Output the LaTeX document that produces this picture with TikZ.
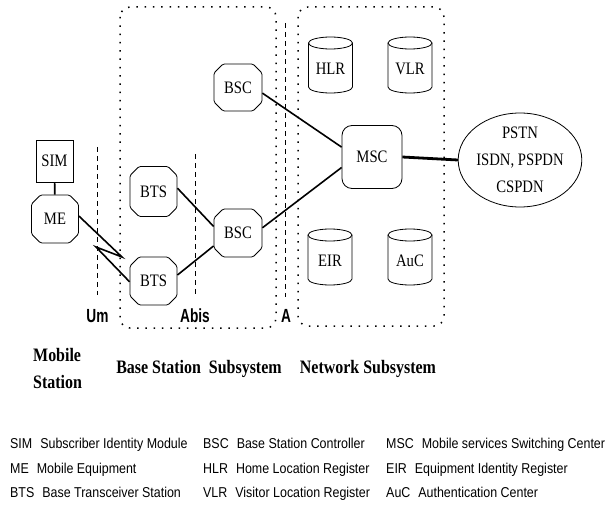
\documentclass[tikz,border=0pt]{standalone}
\usepackage{fontspec}
\usetikzlibrary{shapes.geometric,shapes.misc}
\newfontfamily\dfont[FakeStretch=0.84]{Liberation Serif}
\newfontfamily\sublabfont[FakeStretch=0.84]{Liberation Serif}
\newfontfamily\iflabfont[FakeStretch=0.72]{Liberation Sans}
\newfontfamily\legfont[FakeStretch=0.87]{Liberation Sans}
\newcommand{\mycyl}[4]{%
  \draw[cylline] ({#2},{#3+6}) ellipse[x radius=22pt,y radius=6pt];
  \draw[cylline] ({#2-22},{#3+6}) -- ({#2-22},{#3+50})
     arc[start angle=180,end angle=360,x radius=22pt,y radius=6pt] -- ({#2+22},{#3+6});
  \node[dtext] (#1) at ({#2},{#3+31.5}) {#4};}
\begin{document}
\begin{tikzpicture}[x=1pt,y=-1pt,
  dtext/.style={font=\dfont\fontsize{17.5}{27}\selectfont, inner sep=0pt},
  octbox/.style={chamfered rectangle, chamfered rectangle xsep=4.5pt, chamfered rectangle ysep=4.5pt,
     rounded corners=1.5pt,
     draw, line width=0.8pt, inner sep=0pt, minimum width=47pt, minimum height=48pt,
     font=\dfont\fontsize{17.5}{27}\selectfont},
  simbox/.style={rectangle, draw, line width=0.8pt, inner sep=0pt, minimum width=37pt, minimum height=42pt,
     font=\dfont\fontsize{17.5}{27}\selectfont},
  mscbox/.style={rectangle, rounded corners=10pt, draw, line width=0.8pt, inner sep=0pt,
     minimum width=60pt, minimum height=63pt, font=\dfont\fontsize{17.5}{27}\selectfont},
  netell/.style={ellipse, draw, line width=0.8pt, inner sep=0pt, minimum width=116pt, minimum height=94pt,
     align=center, font=\dfont\fontsize{17.5}{27}\selectfont},
  cylline/.style={draw, line width=0.8pt},
  link/.style={line width=1.6pt},
  trunk/.style={line width=2.8pt},
  dotbox/.style={line width=1.5pt, dash pattern=on 1.5pt off 6.8pt, rounded corners=10pt},
  ifline/.style={line width=0.8pt, dash pattern=on 5pt off 4pt},
  iflab/.style={font=\iflabfont\bfseries\fontsize{19}{20}\selectfont, inner sep=0pt, anchor=base},
  sublab/.style={font=\sublabfont\bfseries\fontsize{19}{27}\selectfont, inner sep=0pt},
  leg/.style={font=\legfont\fontsize{14.3}{16}\selectfont, inner sep=0pt, anchor=base west}
]
\useasboundingbox (0,0) rectangle (606,508);

% subsystem boxes
\draw[dotbox] (120,7) rectangle (276,328);
\draw[dotbox] (298,7) rectangle (444,326);

% interface lines
\draw[ifline] (97,147) -- (97,295);
\draw[ifline] (195,154) -- (195,296);
\draw[ifline] (285,23) -- (285,297);

% nodes
\node[simbox] (sim) at (54.5,161) {SIM};
\node[octbox] (me) at (55,219) {ME};
\node[octbox, minimum height=50pt] (bts1) at (153.5,191.5) {BTS};
\node[octbox] (bts2) at (153.5,281) {BTS};
\node[octbox, minimum width=48pt, minimum height=47pt] (bsc1) at (238,87.5) {BSC};
\node[octbox, minimum width=48pt] (bsc2) at (238,233) {BSC};
\node[mscbox] (msc) at (372,157) {MSC};
\node[netell] (pstn) at (520,160) {PSTN\\ISDN, PSPDN\\CSPDN};

\mycyl{hlr}{330.5}{37}{HLR}
\mycyl{vlr}{410}{37}{VLR}
\mycyl{eir}{330}{229}{EIR}
\mycyl{auc}{410}{229}{AuC}

% connectors
\draw[link] (sim) -- (me);
\coordinate (zz1) at (122,257);
\coordinate (zz2) at (96,247);
\draw[link, line join=miter] (me.7) -- (zz1) -- (zz2) -- (bts2.182);
\draw[link] (bts1.8) -- (bsc2.165);
\draw[link] (bts2.14) -- (bsc2.208);
\draw[link] (bsc1.-13) -- (msc.162);
\draw[link] (bsc2.12) -- (msc.199);
\draw[trunk] (msc.east) -- (pstn.west);

% interface labels
\node[iflab] (um) at (97.5,322.5) {Um};
\node[iflab] (abis) at (195,322.5) {Abis};
\node[iflab] (alab) at (286,322.5) {A};

% subsystem labels
\node[sublab, align=left, anchor=west] (ms) at (33,368.5) {Mobile\\Station};
\node[sublab] (bss) at (199,369) {Base Station\ \ Subsystem};
\node[sublab] (nss) at (368,369) {Network Subsystem};

% legend
\node[leg] (l11) at (10,448) {SIM\hspace{8pt}Subscriber Identity Module};
\node[leg] (l12) at (10,473) {ME\hspace{8pt}Mobile Equipment};
\node[leg] (l13) at (10,497) {BTS\hspace{8pt}Base Transceiver Station};
\node[leg] (l21) at (203,448) {BSC\hspace{8pt}Base Station Controller};
\node[leg] (l22) at (203,473) {HLR\hspace{8pt}Home Location Register};
\node[leg] (l23) at (203,497) {VLR\hspace{8pt}Visitor Location Register};
\node[leg] (l31) at (386,448) {MSC\hspace{8pt}Mobile services Switching Center};
\node[leg] (l32) at (386,473) {EIR\hspace{8pt}Equipment Identity Register};
\node[leg] (l33) at (386,497) {AuC\hspace{8pt}Authentication Center};
\end{tikzpicture}
\end{document}
